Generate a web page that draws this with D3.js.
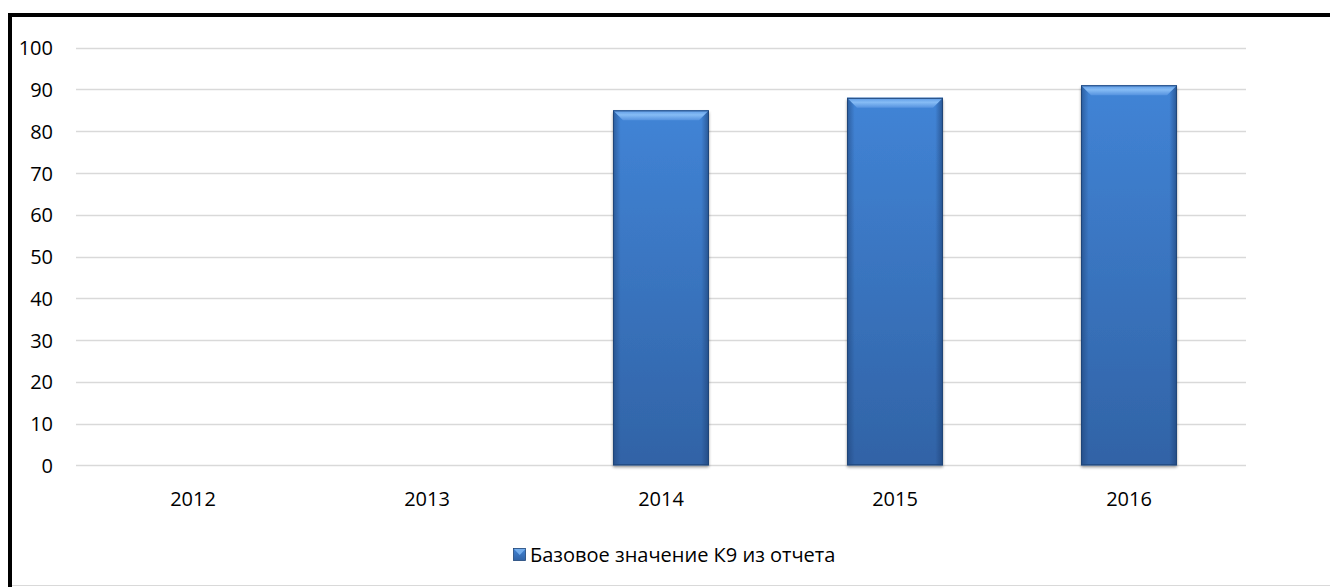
<!DOCTYPE html>
<html><head><meta charset="utf-8">
<script src="https://cdn.jsdelivr.net/npm/d3@7"></script>
<style>body{margin:0;background:#fff;}svg{display:block;} text{font-family:"Open Sans","Noto Sans",sans-serif;}</style>
</head><body>
<svg id="c" width="1330" height="587"></svg>
<script>
const categories = ["2012","2013","2014","2015","2016"];
const values = [null, null, 85, 88, 91];
const yTicks = [0,10,20,30,40,50,60,70,80,90,100];
const seriesName = "Базовое значение К9 из отчета";

const FONT = '"Open Sans","Noto Sans",sans-serif';
const svg = d3.select("#c");
const W = 1330, H = 587;
const m = {l:76, r:84};
const x = d3.scaleBand().domain(categories).range([m.l, W - m.r]).paddingInner(0.59).paddingOuter(0.295);
const xc = d3.scaleBand().domain(categories).range([m.l, W - m.r]);
const y = d3.scaleLinear().domain([0,100]).range([465.3, 47.7]);

const defs = svg.append("defs");
const g1 = defs.append("linearGradient").attr("id","barg").attr("x1",0).attr("y1",0).attr("x2",0).attr("y2",1);
g1.append("stop").attr("offset","0%").attr("stop-color","#4184d6");
g1.append("stop").attr("offset","100%").attr("stop-color","#3163a6");
const g2 = defs.append("linearGradient").attr("id","sideg").attr("x1",0).attr("y1",0).attr("x2",1).attr("y2",0);
g2.append("stop").attr("offset","0%").attr("stop-color","#1d3f72").attr("stop-opacity",0.55);
g2.append("stop").attr("offset","8%").attr("stop-color","#1d3f72").attr("stop-opacity",0.0);
g2.append("stop").attr("offset","92%").attr("stop-color","#1d3f72").attr("stop-opacity",0.0);
g2.append("stop").attr("offset","100%").attr("stop-color","#1d3f72").attr("stop-opacity",0.65);
const g3 = defs.append("linearGradient").attr("id","topg").attr("x1",0).attr("y1",0).attr("x2",0).attr("y2",1);
g3.append("stop").attr("offset","0%").attr("stop-color","#5a98e4");
g3.append("stop").attr("offset","45%").attr("stop-color","#86bcf5");
g3.append("stop").attr("offset","100%").attr("stop-color","#5592df");
const fl = defs.append("filter").attr("id","sh").attr("x","-10%").attr("y","-10%").attr("width","130%").attr("height","130%");
fl.append("feGaussianBlur").attr("in","SourceAlpha").attr("stdDeviation",1.5);
fl.append("feOffset").attr("dx",0).attr("dy",2).attr("result","ob");
fl.append("feComponentTransfer").append("feFuncA").attr("type","linear").attr("slope",0.4);
const mg = fl.append("feMerge"); mg.append("feMergeNode"); mg.append("feMergeNode").attr("in","SourceGraphic");

// border
svg.append("path").attr("d", `M10,${H} V15 H${W}`).attr("fill","none").attr("stroke","#000").attr("stroke-width",4);
svg.append("line").attr("x1",12).attr("x2",W).attr("y1",585.5).attr("y2",585.5).attr("stroke","#d9d9d9");

// grid
svg.append("g").selectAll("line").data(yTicks).join("line")
  .attr("x1", m.l).attr("x2", W - m.r)
  .attr("y1", d => Math.round(y(d))+0.5).attr("y2", d => Math.round(y(d))+0.5)
  .attr("stroke","#d9d9d9").attr("stroke-width",1.5);

// y axis labels
const ya = svg.append("g").attr("transform",`translate(${m.l-23},0)`)
  .call(d3.axisLeft(y).tickValues(yTicks).tickSize(0).tickPadding(0));
ya.attr("font-family", FONT).attr("font-size", 20);
ya.select(".domain").remove();
ya.selectAll("text").attr("fill","#000").attr("dy","0.36em");

// x axis labels
const xa = svg.append("g").attr("transform",`translate(0,${y(0)+33})`)
  .call(d3.axisBottom(xc).tickSize(0).tickPadding(0));
xa.attr("font-family", FONT).attr("font-size", 20);
xa.select(".domain").remove();
xa.selectAll("text").attr("fill","#000").attr("dy","0.36em");

// bars
const data = categories.map((c,i)=>({c, v: values[i]})).filter(d => d.v != null);
const bars = svg.append("g").selectAll("g").data(data).join("g");
bars.append("rect").attr("x", d=>x(d.c)).attr("y", d=>y(d.v)).attr("width", x.bandwidth())
  .attr("height", d=>y(0)-y(d.v)).attr("fill","url(#barg)").attr("filter","url(#sh)");
bars.append("rect").attr("x", d=>x(d.c)).attr("y", d=>y(d.v)).attr("width", x.bandwidth())
  .attr("height", d=>y(0)-y(d.v)).attr("fill","url(#sideg)");
// top bevel
bars.append("path").attr("d", d => {
  const x0 = x(d.c), x1 = x0 + x.bandwidth(), t = y(d.v), b = 10;
  return `M${x0},${t} L${x1},${t} L${x1-b},${t+b} L${x0+b},${t+b} Z`;
}).attr("fill","url(#topg)");
bars.append("rect").attr("x", d=>x(d.c)+0.5).attr("y", d=>y(d.v)+0.5).attr("width", x.bandwidth()-1)
  .attr("height", d=>y(0)-y(d.v)-1).attr("fill","none").attr("stroke","#1f4578").attr("stroke-width",1);

// legend
const lg = svg.append("g").attr("transform","translate(513,555)");
lg.append("rect").attr("x",0.5).attr("y",-6.5).attr("width",12).attr("height",12).attr("fill","url(#barg)").attr("stroke","#1f4578").attr("stroke-width",0.8);
lg.append("path").attr("d","M1,-6 L12.5,-6 L6.75,0 Z").attr("fill","#7ab2f0").attr("opacity",0.9);
lg.append("text").attr("x",17).attr("y",0).attr("dy","0.36em").attr("font-family",FONT).attr("font-size",20).attr("fill","#000").text(seriesName);
</script>
</body></html>
